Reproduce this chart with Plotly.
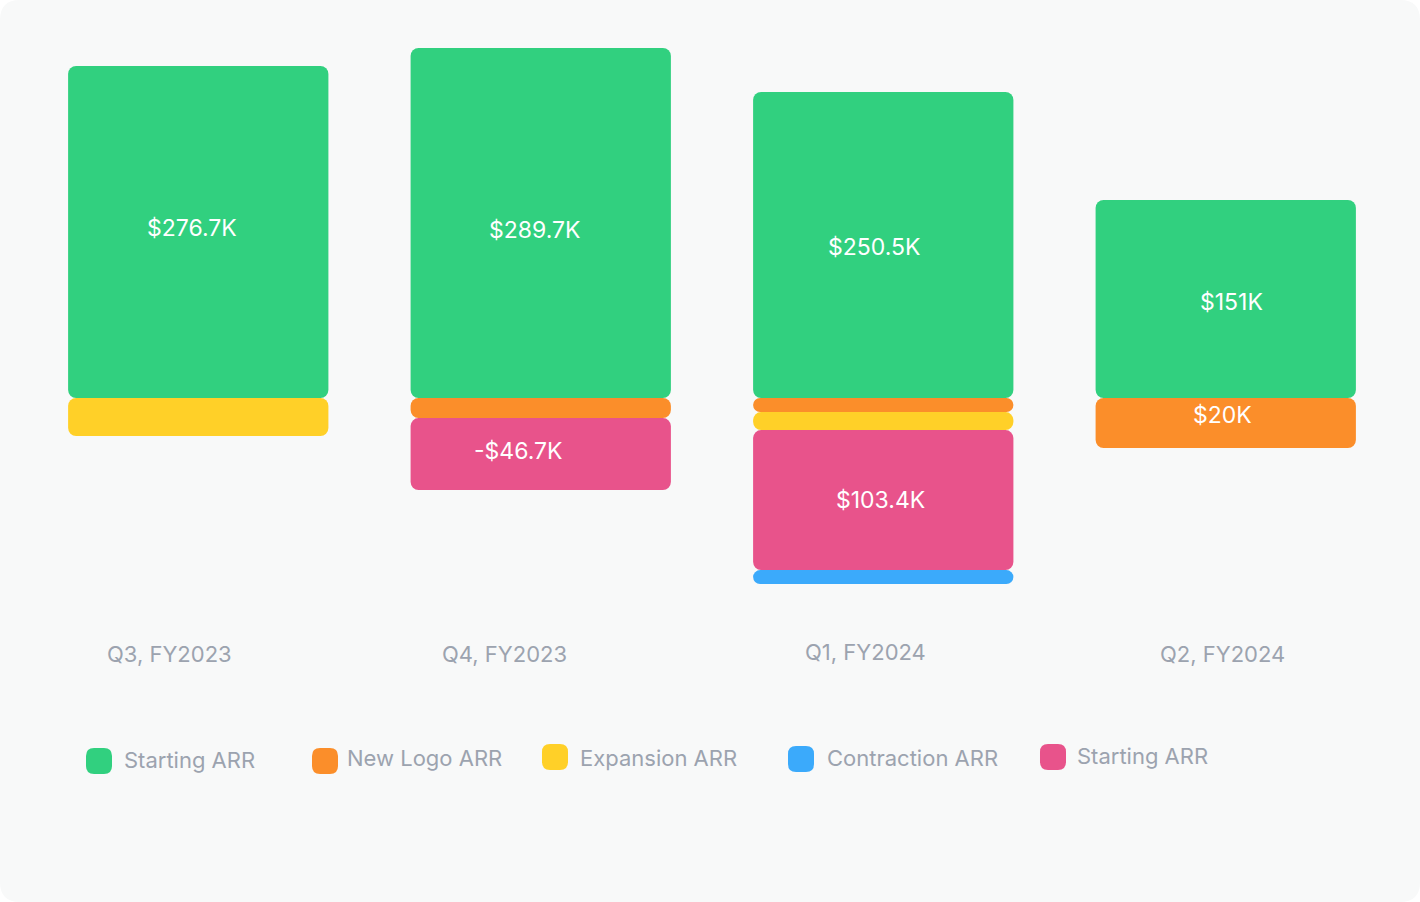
import plotly.graph_objects as go

# ---------------- data ----------------
categories = ["Q3, FY2023", "Q4, FY2023", "Q1, FY2024", "Q2, FY2024"]
starting_arr = [276.7, 291.7, 255.0, 165.0]          # green, above zero
new_logo_arr = [None, 16.7, 11.7, 41.7]              # orange, below zero
expansion_arr = [31.7, None, 15.0, None]             # yellow, below zero
churned_arr = [None, 60.0, 116.7, None]              # pink, below zero
contraction_arr = [None, None, 11.7, None]           # blue, below zero

starting_labels = ["$276.7K", "$289.7K", "$250.5K", "$151K"]
new_logo_labels = ["", "", "", "$20K"]
churned_labels = ["", "-$46.7K", "$103.4K", ""]

series_names = ["Starting ARR", "New Logo ARR", "Expansion ARR", "Contraction ARR", "Starting ARR"]
colors = {"green": "#31d07f", "orange": "#fb8e2a", "yellow": "#ffd028",
          "blue": "#3baafb", "pink": "#e8538b"}

# ---------------- layout geometry ----------------
W, H = 1420, 902
L, R, T, B = 27, 23, 40, 302
PW, PH = W - L - R, H - T - B
Y_RANGE = [-168.33, 298.33]
BAR_W = 0.76
FONT = "Inter"
GRAY = "#9ca3af"


def to_paper(px, py):
    return (px - L) / PW, (T + PH - py) / PH


def rr_path(x0, y0, x1, y1, r):
    pts = [("M", [(x0 + r, y0)]), ("L", [(x1 - r, y0)]), ("Q", [(x1, y0), (x1, y0 + r)]),
           ("L", [(x1, y1 - r)]), ("Q", [(x1, y1), (x1 - r, y1)]), ("L", [(x0 + r, y1)]),
           ("Q", [(x0, y1), (x0, y1 - r)]), ("L", [(x0, y0 + r)]), ("Q", [(x0, y0), (x0 + r, y0)])]
    s = ""
    for cmd, ps in pts:
        s += cmd + " ".join(f"{to_paper(a, b)[0]:.6f},{to_paper(a, b)[1]:.6f}" for a, b in ps)
    return s + "Z"


fig = go.Figure()
annotations = []

# label nudges (pixels: dx right, dy down) to mirror the reference placement
label_nudge = {
    ("green", 0): (-6, -4), ("green", 1): (-6, 7), ("green", 2): (-9, 2), ("green", 3): (6, 3),
    ("orange", 3): (-3, -8), ("pink", 1): (-23, -3), ("pink", 2): (-3, 0),
}


def add_labels(key, labels, bases, vals):
    if not labels:
        return
    for i, lab in enumerate(labels):
        if not lab or vals[i] is None:
            continue
        dx, dy = label_nudge.get((key, i), (0, 0))
        annotations.append(dict(xref="x", yref="y", x=categories[i], y=bases[i] + vals[i] / 2,
                                text=lab, showarrow=False, xanchor="center", yanchor="middle",
                                xshift=dx, yshift=-dy,
                                font=dict(family=FONT, size=23, color="white")))


fig.add_trace(go.Bar(
    x=categories, y=starting_arr, base=[0] * 4, name="Starting ARR",
    marker=dict(color=colors["green"], cornerradius=8, line=dict(width=0)),
    width=BAR_W, showlegend=False, hoverinfo="skip",
))
add_labels("green", starting_labels, [0] * 4, starting_arr)

# stack the other segments downward from zero
neg_order = [("orange", "New Logo ARR", new_logo_arr, new_logo_labels),
             ("yellow", "Expansion ARR", expansion_arr, None),
             ("pink", "Churned ARR", churned_arr, churned_labels),
             ("blue", "Contraction ARR", contraction_arr, None)]

cum = [0.0] * 4
for key, name, vals, labels in neg_order:
    bases = []
    for i, v in enumerate(vals):
        if v is None:
            bases.append(None)
        else:
            cum[i] += v
            bases.append(-cum[i])
    fig.add_trace(go.Bar(
        x=categories, y=vals, base=bases, name=name,
        marker=dict(color=colors[key], cornerradius=8, line=dict(width=0)),
        width=BAR_W, showlegend=False, hoverinfo="skip",
    ))
    add_labels(key, labels, bases, vals)

shapes = []
# card background
shapes.append(dict(type="path", xref="paper", yref="paper", layer="below",
                   path=rr_path(0, 0, W, H, 20), fillcolor="#f8f9f9", line=dict(width=0)))

# custom legend
legend_items = [
    (series_names[0], colors["green"], 86, 748, 124, 760),
    (series_names[1], colors["orange"], 312, 748, 347, 758),
    (series_names[2], colors["yellow"], 542, 744, 580, 758),
    (series_names[3], colors["blue"], 788, 746, 827, 758),
    (series_names[4], colors["pink"], 1040, 744, 1077, 756),
]
for label, col, mx, my, tx, ty in legend_items:
    shapes.append(dict(type="path", xref="paper", yref="paper", layer="above",
                       path=rr_path(mx, my, mx + 26, my + 26, 8), fillcolor=col, line=dict(width=0)))
    px, py = to_paper(tx - 2, ty)
    annotations.append(dict(xref="paper", yref="paper", x=px, y=py, xanchor="left", yanchor="middle",
                            text=label, showarrow=False, font=dict(family=FONT, size=22, color=GRAY)))

# category labels
label_offsets = [(-29, -54), (-36, -54), (-18, -52), (-3, -54)]
for cat, (dx, dy) in zip(categories, label_offsets):
    annotations.append(dict(xref="x", yref="paper", x=cat, y=0, xanchor="center", yanchor="middle",
                            xshift=dx, yshift=dy, text=cat, showarrow=False,
                            font=dict(family=FONT, size=22, color=GRAY)))

fig.update_layout(
    width=W, height=H, margin=dict(l=L, r=R, t=T, b=B, pad=0),
    paper_bgcolor="white", plot_bgcolor="rgba(0,0,0,0)",
    barmode="overlay", showlegend=False,
    xaxis=dict(type="category", range=[-0.5, 3.5], showticklabels=False, showgrid=False,
               zeroline=False, showline=False, ticks=""),
    yaxis=dict(range=Y_RANGE, visible=False, showgrid=False, zeroline=False),
    shapes=shapes, annotations=annotations,
    font=dict(family=FONT),
)

fig.write_html("out.html")
